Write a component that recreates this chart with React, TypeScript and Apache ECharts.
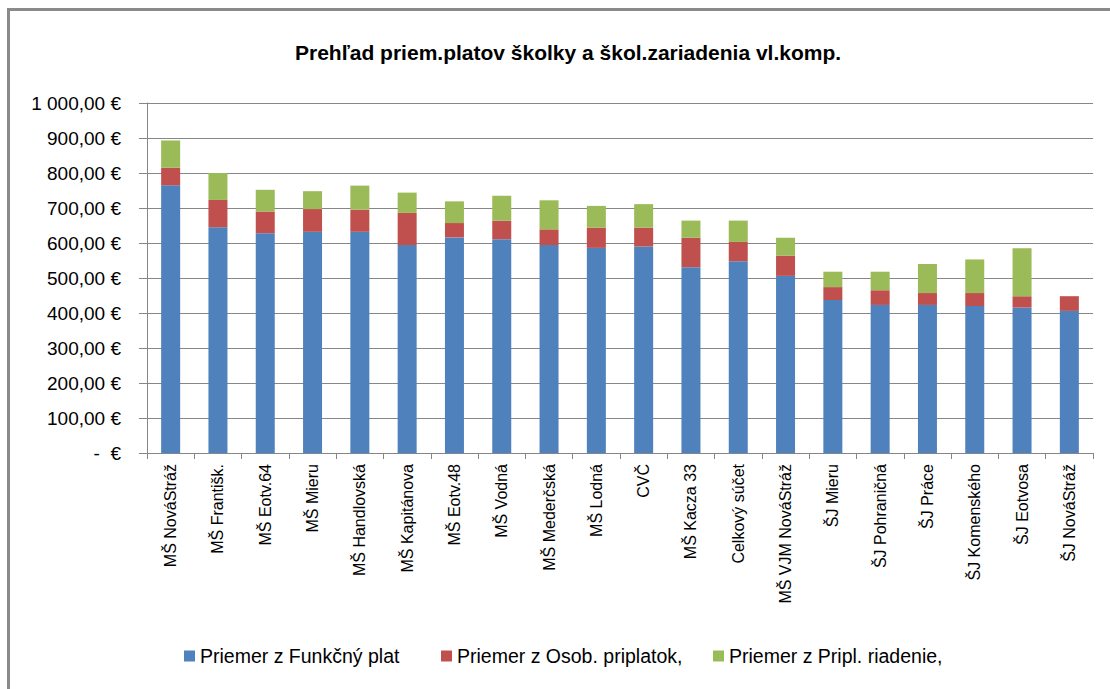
import React, { useEffect, useRef } from "react";
import * as echarts from "echarts";

const TITLE = "Prehľad priem.platov školky a škol.zariadenia vl.komp.";

const categories = [
  "MŠ NováStráž",
  "MŠ Františk.",
  "MŠ Eotv.64",
  "MŠ Mieru",
  "MŠ Handlovská",
  "MŠ Kapitánova",
  "MŠ Eotv.48",
  "MŠ Vodná",
  "MŠ Mederčská",
  "MŠ Lodná",
  "CVČ",
  "MŠ Kacza 33",
  "Celkový súčet",
  "MŠ VJM NováStráž",
  "ŠJ Mieru",
  "ŠJ Pohraničná",
  "ŠJ Práce",
  "ŠJ Komenského",
  "ŠJ Eotvosa",
  "ŠJ NováStráž",
];

const seriesNames = [
  "Priemer z Funkčný plat",
  "Priemer z Osob. priplatok,",
  "Priemer z Pripl. riadenie,",
];

const funkcnyPlat = [765, 645, 628, 632, 632, 594, 616, 611, 594, 586, 590, 531, 548, 506, 437, 423, 423, 420, 416, 406];
const osobPriplatok = [50, 78, 62, 65, 63, 92, 41, 53, 45, 58, 54, 84, 55, 58, 37, 42, 34, 37, 32, 42];
const priplRiadenie = [78, 77, 62, 51, 69, 58, 62, 71, 83, 62, 67, 49, 61, 51, 44, 53, 83, 96, 137, 0];

const yMin = 0;
const yMax = 1000;
const yStep = 100;

const colors = ["#4F81BD", "#C0504D", "#9BBB59"];
const FONT = "'Liberation Sans', Arial, sans-serif";

function fmtEuro(v: number): string {
  if (v === 0) return "-\u00A0\u00A0€";
  const fixed = v.toFixed(2);
  const [intPart, dec] = fixed.split(".");
  const withSep = intPart.replace(/\B(?=(\d{3})+(?!\d))/g, "\u00A0");
  return withSep + "," + dec + "\u00A0€";
}

export default function App() {
  const ref = useRef<HTMLDivElement>(null);

  useEffect(() => {
    if (!ref.current) return;
    const chart = echarts.init(ref.current, undefined, { renderer: "svg" });
    const dataSets = [funkcnyPlat, osobPriplatok, priplRiadenie];
    const legendLefts = [179, 436, 708];
    chart.setOption({
      animation: false,
      backgroundColor: "#ffffff",
      title: {
        text: TITLE,
        left: 290,
        top: 37,
        textStyle: { fontFamily: FONT, fontSize: 21, fontWeight: "bold", color: "#000" },
      },
      legend: seriesNames.map((n, i) => ({
        data: [n],
        left: legendLefts[i],
        top: 641,
        itemWidth: 11,
        itemHeight: 11,
        itemGap: 5,
        icon: "rect",
        textStyle: { fontFamily: FONT, fontSize: 19.5, color: "#000", padding: [0, 0, 0, 0] },
        selectedMode: false,
      })),
      grid: { left: 147, top: 103, width: 946, height: 350, containLabel: false },
      xAxis: {
        type: "category",
        data: categories,
        axisLine: { lineStyle: { color: "#868686", width: 1 } },
        axisTick: { show: true, length: 6, lineStyle: { color: "#868686" } },
        axisLabel: {
          rotate: 90,
          interval: 0,
          margin: 11,
          fontFamily: FONT,
          fontSize: 16,
          color: "#000",
        },
        splitLine: { show: false },
      },
      yAxis: {
        type: "value",
        min: yMin,
        max: yMax,
        interval: yStep,
        axisLine: { show: true, lineStyle: { color: "#868686", width: 1 } },
        axisTick: { show: true, length: 8, lineStyle: { color: "#868686" } },
        axisLabel: {
          formatter: (v: number) => fmtEuro(v),
          margin: 26,
          fontFamily: FONT,
          fontSize: 19,
          color: "#000",
        },
        splitLine: { show: true, lineStyle: { color: "#878787", width: 1.2 } },
      },
      series: seriesNames.map((n, i) => ({
        name: n,
        type: "bar",
        stack: "total",
        barWidth: 19,
        data: dataSets[i],
        itemStyle: { color: colors[i] },
      })),
      graphic: [
        {
          type: "rect",
          silent: true,
          shape: { x: 8.5, y: 9.5, width: 1300, height: 900 },
          style: { fill: "none", stroke: "#8A8A8A", lineWidth: 3 },
          z: 100,
        },
      ],
    });
    return () => chart.dispose();
  }, []);

  return (
    <div
      ref={ref}
      style={{ position: "fixed", left: 0, top: 0, width: 1110, height: 689 }}
    />
  );
}
